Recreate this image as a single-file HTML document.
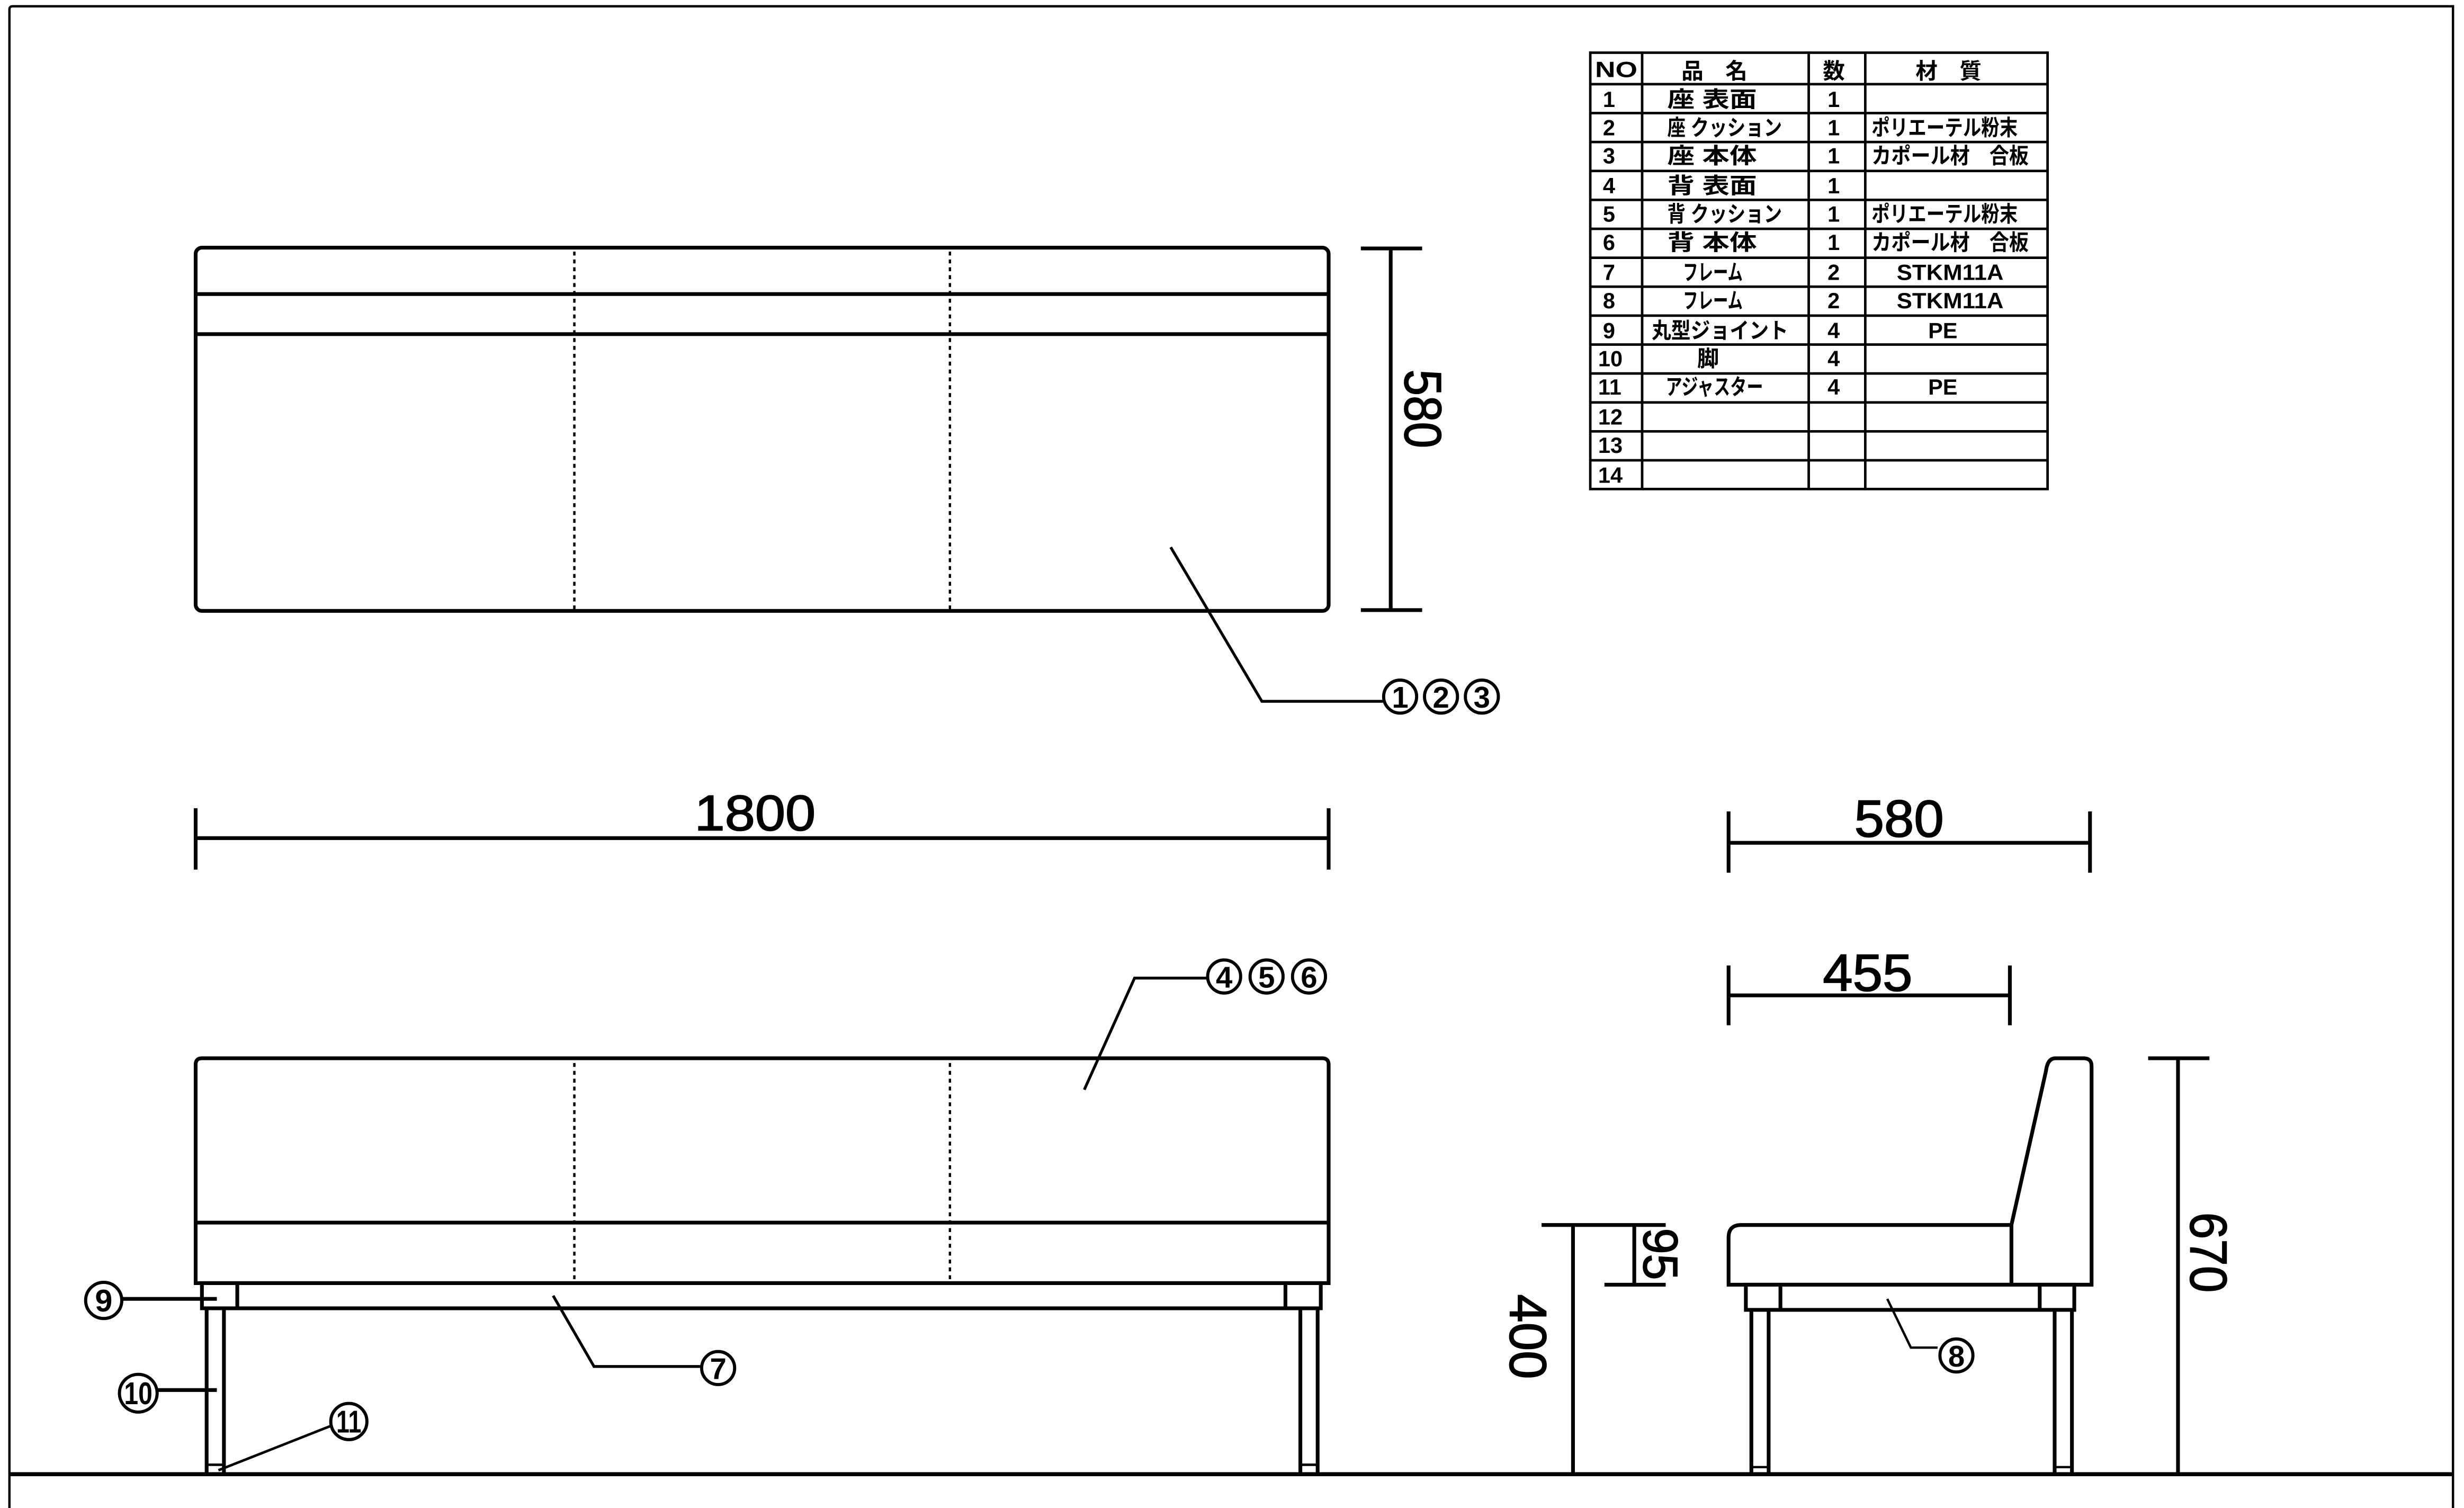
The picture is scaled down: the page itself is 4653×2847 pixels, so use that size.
<!DOCTYPE html>
<html><head><meta charset="utf-8"><style>
html,body{margin:0;padding:0;background:#fff;}
svg{display:block;}
.t{font-family:"Liberation Sans","Noto Sans CJK JP",sans-serif;font-weight:bold;fill:#000;}
.d{font-family:"Liberation Sans",sans-serif;font-weight:normal;fill:#000;stroke:#000;stroke-width:0.6;}
.j{font-family:"Liberation Sans","Noto Sans CJK JP",sans-serif;font-weight:bold;font-size:14px;fill:#000;}
</style></head><body>
<svg width="4653" height="2847" viewBox="0 0 1568 959" preserveAspectRatio="none" xmlns="http://www.w3.org/2000/svg">
<g fill="none" stroke="#000" stroke-width="2.4" stroke-linecap="butt">
<path d="M6,962 L6,6 Q6,4 8,4 L1561,4 L1561,962" stroke-width="1.5"/>
<line x1="6" y1="937.5" x2="1561" y2="937.5" stroke-width="2.6"/>

<rect x="124.5" y="157.5" width="721" height="231" rx="4"/>
<line x1="124.5" y1="187" x2="845.5" y2="187"/>
<line x1="124.5" y1="212.5" x2="845.5" y2="212.5"/>
<line x1="365.5" y1="160" x2="365.5" y2="388" stroke-width="1.5" stroke-dasharray="2.5,2.5"/>
<line x1="604.5" y1="160" x2="604.5" y2="388" stroke-width="1.5" stroke-dasharray="2.5,2.5"/>
<line x1="885" y1="158" x2="885" y2="388"/>
<line x1="866" y1="158" x2="905" y2="158"/>
<line x1="866" y1="388" x2="905" y2="388"/>
<polyline points="745,348 803,446 880,446" stroke-width="1.8"/>

<line x1="124.5" y1="533" x2="845.5" y2="533"/>
<line x1="124.5" y1="514" x2="124.5" y2="553"/>
<line x1="845.5" y1="514" x2="845.5" y2="553"/>

<path d="M124.5,816 L124.5,677 Q124.5,673 128.5,673 L841.5,673 Q845.5,673 845.5,677 L845.5,816 Z"/>
<line x1="124.5" y1="777.5" x2="845.5" y2="777.5"/>
<line x1="365.5" y1="676" x2="365.5" y2="815" stroke-width="1.5" stroke-dasharray="2.5,2.5"/>
<line x1="604.5" y1="676" x2="604.5" y2="815" stroke-width="1.5" stroke-dasharray="2.5,2.5"/>
<rect x="128.5" y="816" width="712" height="16"/>
<line x1="151" y1="816" x2="151" y2="832"/>
<line x1="818" y1="816" x2="818" y2="832"/>
<line x1="131.5" y1="832" x2="131.5" y2="937"/>
<line x1="142.5" y1="832" x2="142.5" y2="937"/>
<line x1="131.5" y1="931.5" x2="142.5" y2="931.5" stroke-width="1.6"/>
<line x1="827.5" y1="832" x2="827.5" y2="937"/>
<line x1="838.5" y1="832" x2="838.5" y2="937"/>
<line x1="827.5" y1="931.5" x2="838.5" y2="931.5" stroke-width="1.6"/>
<polyline points="690,693 722,622 768,622" stroke-width="1.8"/>
<polyline points="352,824 378,869 446,869" stroke-width="1.8"/>
<line x1="78" y1="826" x2="138" y2="826"/>
<line x1="100" y1="884" x2="138" y2="884"/>
<line x1="210" y1="907" x2="139" y2="935" stroke-width="1.6"/>

<line x1="1100" y1="536" x2="1330" y2="536"/>
<line x1="1100" y1="516" x2="1100" y2="555"/>
<line x1="1330" y1="516" x2="1330" y2="555"/>
<line x1="1100" y1="633" x2="1279" y2="633"/>
<line x1="1100" y1="614" x2="1100" y2="652"/>
<line x1="1279" y1="614" x2="1279" y2="652"/>
<line x1="981" y1="779" x2="1060" y2="779"/>
<line x1="1001" y1="779" x2="1001" y2="937"/>
<line x1="1040" y1="779" x2="1040" y2="817"/>
<line x1="1021" y1="817" x2="1060" y2="817"/>
<line x1="1367" y1="673" x2="1406" y2="673"/>
<line x1="1386" y1="673" x2="1386" y2="937"/>

<path d="M1280,817 L1100,817 L1100,787 Q1100,779 1108,779 L1280,779 L1302,681 Q1303,673 1308,673 L1326,673 Q1331,673 1331,678 L1331,817 Z"/>
<line x1="1280" y1="779" x2="1280" y2="817"/>
<rect x="1111" y="817" width="209" height="16"/>
<line x1="1133" y1="817" x2="1133" y2="833"/>
<line x1="1298" y1="817" x2="1298" y2="833"/>
<line x1="1114.5" y1="833" x2="1114.5" y2="937"/>
<line x1="1125.5" y1="833" x2="1125.5" y2="937"/>
<line x1="1114.5" y1="933" x2="1125.5" y2="933" stroke-width="1.5"/>
<line x1="1307.5" y1="833" x2="1307.5" y2="937"/>
<line x1="1318.5" y1="833" x2="1318.5" y2="937"/>
<line x1="1307.5" y1="933" x2="1318.5" y2="933" stroke-width="1.5"/>
<polyline points="1201,826 1216,857 1233,857" stroke-width="1.5"/>

<g stroke-width="2">
<circle cx="891" cy="443" r="10.5"/><circle cx="917" cy="443" r="10.5"/><circle cx="943" cy="443" r="10.5"/>
<circle cx="779" cy="621" r="10.5"/><circle cx="806" cy="621" r="10.5"/><circle cx="833" cy="621" r="10.5"/>
<circle cx="457" cy="870" r="10.5"/>
<circle cx="66" cy="827" r="11.5"/>
<circle cx="88" cy="886" r="12"/>
<circle cx="222" cy="904" r="11.5"/>
<circle cx="1245" cy="862" r="10.5"/>
</g>

<g stroke-width="1.6">
<rect x="1012" y="33.5" width="291" height="277.5"/>
<line x1="1045" y1="33.5" x2="1045" y2="311"/>
<line x1="1151" y1="33.5" x2="1151" y2="311"/>
<line x1="1187" y1="33.5" x2="1187" y2="311"/>
<line x1="1012" y1="53.5" x2="1303" y2="53.5"/>
<line x1="1012" y1="71.9" x2="1303" y2="71.9"/>
<line x1="1012" y1="90.3" x2="1303" y2="90.3"/>
<line x1="1012" y1="108.7" x2="1303" y2="108.7"/>
<line x1="1012" y1="127.1" x2="1303" y2="127.1"/>
<line x1="1012" y1="145.5" x2="1303" y2="145.5"/>
<line x1="1012" y1="163.9" x2="1303" y2="163.9"/>
<line x1="1012" y1="182.3" x2="1303" y2="182.3"/>
<line x1="1012" y1="200.7" x2="1303" y2="200.7"/>
<line x1="1012" y1="219.1" x2="1303" y2="219.1"/>
<line x1="1012" y1="237.5" x2="1303" y2="237.5"/>
<line x1="1012" y1="255.9" x2="1303" y2="255.9"/>
<line x1="1012" y1="274.3" x2="1303" y2="274.3"/>
<line x1="1012" y1="292.7" x2="1303" y2="292.7"/>
</g>
</g>

<g class="d">
<text x="442" y="528" font-size="32" textLength="77" lengthAdjust="spacingAndGlyphs">1800</text>
<text x="1180" y="532" font-size="33" textLength="57" lengthAdjust="spacingAndGlyphs">580</text>
<text x="1160" y="630" font-size="33" textLength="57" lengthAdjust="spacingAndGlyphs">455</text>
<text transform="translate(894,235) rotate(90)" font-size="33" textLength="50" lengthAdjust="spacingAndGlyphs">580</text>
<text transform="translate(961,823) rotate(90)" font-size="33" textLength="54" lengthAdjust="spacingAndGlyphs">400</text>
<text transform="translate(1046,781) rotate(90)" font-size="31" textLength="33" lengthAdjust="spacingAndGlyphs">95</text>
<text transform="translate(1394,771) rotate(90)" font-size="33" textLength="51" lengthAdjust="spacingAndGlyphs">670</text>
</g>
<g class="t" font-size="19" text-anchor="middle">
<text x="891" y="450">1</text><text x="917" y="450">2</text><text x="943" y="450">3</text>
<text x="779" y="628">4</text><text x="806" y="628">5</text><text x="833" y="628">6</text>
<text x="457" y="877">7</text>
<text x="66" y="834" font-size="20">9</text>
<text x="88" y="893" font-size="20" textLength="18" lengthAdjust="spacingAndGlyphs">10</text>
<text x="222" y="911" font-size="20" textLength="16" lengthAdjust="spacingAndGlyphs">11</text>
<text x="1245" y="869">8</text>
</g>

<g class="j">
<text x="1015" y="49" textLength="27" lengthAdjust="spacingAndGlyphs">NO</text>
<text x="1070" y="50">品　名</text>
<text x="1160" y="50">数</text>
<text x="1219" y="50">材　質</text>
<g>
<text x="1020" y="68">1</text><text x="1020" y="86">2</text><text x="1020" y="104">3</text><text x="1020" y="123">4</text><text x="1020" y="141">5</text><text x="1020" y="159">6</text><text x="1020" y="178">7</text><text x="1020" y="196">8</text><text x="1020" y="215">9</text><text x="1017" y="233">10</text><text x="1017" y="251">11</text><text x="1017" y="270">12</text><text x="1017" y="288">13</text><text x="1017" y="307">14</text>
</g>
<text x="1061" y="68" textLength="57" lengthAdjust="spacingAndGlyphs">座 表面</text>
<text x="1061" y="86" textLength="73" lengthAdjust="spacingAndGlyphs">座 クッション</text>
<text x="1061" y="104" textLength="57" lengthAdjust="spacingAndGlyphs">座 本体</text>
<text x="1061" y="123" textLength="57" lengthAdjust="spacingAndGlyphs">背 表面</text>
<text x="1061" y="141" textLength="73" lengthAdjust="spacingAndGlyphs">背 クッション</text>
<text x="1061" y="159" textLength="57" lengthAdjust="spacingAndGlyphs">背 本体</text>
<text x="1071" y="178" textLength="38" lengthAdjust="spacingAndGlyphs">フレーム</text>
<text x="1071" y="196" textLength="38" lengthAdjust="spacingAndGlyphs">フレーム</text>
<text x="1051" y="215" textLength="87" lengthAdjust="spacingAndGlyphs">丸型ジョイント</text>
<text x="1080" y="233">脚</text>
<text x="1060" y="251" textLength="62" lengthAdjust="spacingAndGlyphs">アジャスター</text>
<text x="1163" y="68">1</text><text x="1163" y="86">1</text><text x="1163" y="104">1</text><text x="1163" y="123">1</text><text x="1163" y="141">1</text><text x="1163" y="159">1</text><text x="1163" y="178">2</text><text x="1163" y="196">2</text><text x="1163" y="215">4</text><text x="1163" y="233">4</text><text x="1163" y="251">4</text>
<text x="1191" y="86" textLength="93" lengthAdjust="spacingAndGlyphs">ポリエーテル粉末</text>
<text x="1191" y="104" textLength="100" lengthAdjust="spacingAndGlyphs">カポール材　合板</text>
<text x="1191" y="141" textLength="93" lengthAdjust="spacingAndGlyphs">ポリエーテル粉末</text>
<text x="1191" y="159" textLength="100" lengthAdjust="spacingAndGlyphs">カポール材　合板</text>
<text x="1207" y="178" textLength="68" lengthAdjust="spacingAndGlyphs">STKM11A</text>
<text x="1207" y="196" textLength="68" lengthAdjust="spacingAndGlyphs">STKM11A</text>
<text x="1227" y="215">PE</text>
<text x="1227" y="251">PE</text>
</g>
</svg>
</body></html>
